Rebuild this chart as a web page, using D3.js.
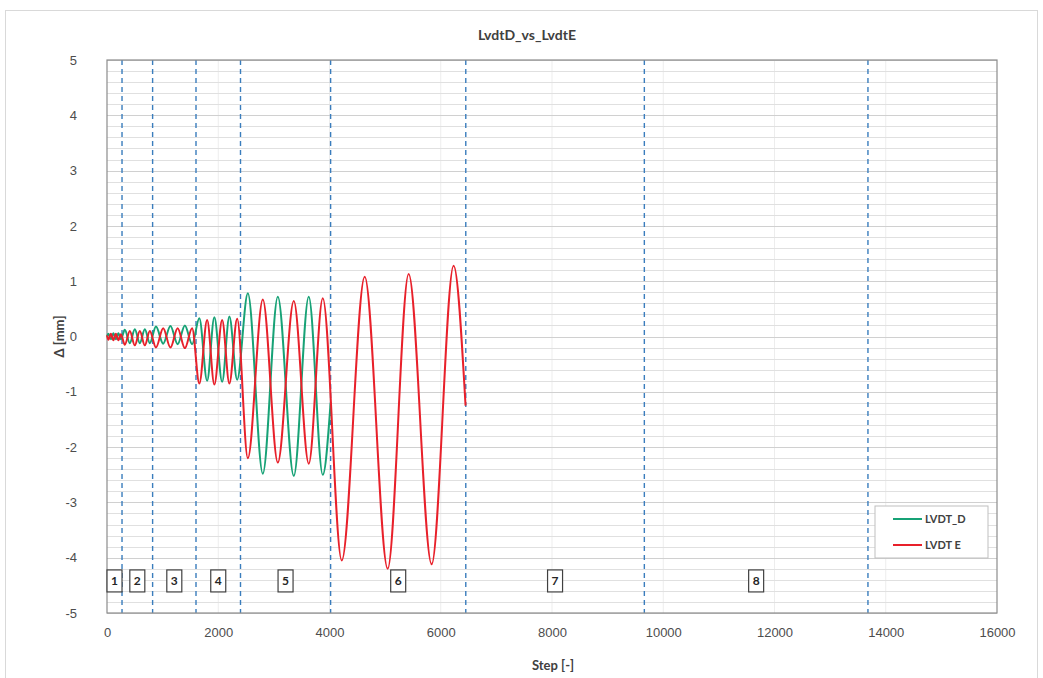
<!DOCTYPE html>
<html>
<head>
<meta charset="utf-8">
<script src="https://cdn.jsdelivr.net/npm/d3@7"></script>
<style>
  html, body { margin: 0; padding: 0; background: #fff; }
  svg { display: block; font-family: Lato, "Open Sans", sans-serif; }
</style>
</head>
<body>
<svg id="chart" width="1043" height="678"></svg>
<script>
// LVDT readings: [step, displacement in mm] at the turning points of each cycle
const lvdtD = [
  [0, 0.00], [25, 0.05], [70, -0.05], [115, 0.06], [160, -0.05], [205, 0.06], [250, -0.05],
  [320, 0.12], [410, -0.12], [500, 0.13], [590, -0.12], [680, 0.13], [770, -0.12],
  [880, 0.18], [1010, -0.13], [1140, 0.19], [1270, -0.14], [1400, 0.20], [1530, -0.14],
  [1660, 0.33], [1800, -0.80], [1930, 0.35], [2070, -0.82], [2200, 0.36], [2340, -0.78],
  [2532, 0.78], [2801, -2.48], [3071, 0.72], [3358, -2.52], [3627, 0.72], [3879, -2.50], [4020, -1.20]
];
const lvdtE = [
  [0, 0.02], [25, -0.06], [70, 0.05], [115, -0.07], [160, 0.05], [205, -0.07], [250, 0.04],
  [320, -0.15], [410, 0.10], [500, -0.16], [590, 0.10], [680, -0.16], [770, 0.10],
  [880, -0.20], [1010, 0.15], [1140, -0.20], [1270, 0.15], [1400, -0.21], [1530, 0.15],
  [1660, -0.85], [1800, 0.30], [1930, -0.87], [2070, 0.30], [2200, -0.85], [2340, 0.32],
  [2532, -2.20], [2801, 0.67], [3071, -2.28], [3358, 0.64], [3627, -2.30], [3879, 0.69],
  [4220, -4.05], [4633, 1.08], [5046, -4.20], [5423, 1.13], [5836, -4.12], [6231, 1.28], [6446, -1.25]
];

// Loading stage boundaries (step) and stage numbers
const stageBounds = [0, 270, 820, 1600, 2400, 4020, 6450, 9660, 13680];
const stageLabels = ["1", "2", "3", "4", "5", "6", "7", "8"];
const stageLabelLevel = -4.42;

const xTicks = [0, 2000, 4000, 6000, 8000, 10000, 12000, 14000, 16000];
const yTicks = [-5, -4, -3, -2, -1, 0, 1, 2, 3, 4, 5];

const series = [
  { name: "LVDT_D", values: lvdtD, color: "#17a276" },
  { name: "LVDT E", values: lvdtE, color: "#e8202a" }
];

const svg = d3.select("#chart");
const W = 1043, H = 678;
const plot = { left: 107, right: 997, top: 60, bottom: 613 };

svg.append("rect").attr("width", W).attr("height", H).attr("fill", "#fff");
// outer chart frame
svg.append("rect")
  .attr("x", 5.5).attr("y", 10.5).attr("width", 1032).attr("height", 690)
  .attr("fill", "none").attr("stroke", "#d9d9d9");

const x = d3.scaleLinear().domain([0, 16000]).range([plot.left, plot.right]);
const y = d3.scaleLinear().domain([-5, 5]).range([plot.bottom, plot.top]);

// vertical gridlines
svg.append("g").selectAll("line")
  .data(xTicks.slice(1, -1))
  .join("line")
  .attr("x1", d => x(d)).attr("x2", d => x(d))
  .attr("y1", plot.top).attr("y2", plot.bottom)
  .attr("stroke", "#ededed").attr("stroke-width", 1);

// horizontal gridlines every 0.2 mm
const minorY = d3.range(-50, 51, 2).map(v => v / 10);
svg.append("g").selectAll("line")
  .data(minorY)
  .join("line")
  .attr("x1", plot.left).attr("x2", plot.right)
  .attr("y1", d => Math.round(y(d)) + 0.5).attr("y2", d => Math.round(y(d)) + 0.5)
  .attr("stroke", d => Number.isInteger(d) ? "#d0d0d0" : "#e0e0e0")
  .attr("stroke-width", 1);

// stage boundary markers
svg.append("g").selectAll("line")
  .data(stageBounds.slice(1))
  .join("line")
  .attr("x1", d => x(d)).attr("x2", d => x(d))
  .attr("y1", plot.top).attr("y2", plot.bottom)
  .attr("stroke", "#3a7dbd").attr("stroke-width", 1.4)
  .attr("stroke-dasharray", "5,4");

// plot frame
svg.append("rect")
  .attr("x", plot.left).attr("y", plot.top)
  .attr("width", plot.right - plot.left).attr("height", plot.bottom - plot.top)
  .attr("fill", "none").attr("stroke", "#8c8c8c").attr("stroke-width", 1.2);

// axes (plain hyphen for negative numbers)
const fmt = d => String(d);
const xAxis = svg.append("g")
  .attr("transform", `translate(0,${plot.bottom})`)
  .call(d3.axisBottom(x).tickValues(xTicks).tickSize(0).tickPadding(15).tickFormat(fmt));
const yAxis = svg.append("g")
  .attr("transform", `translate(${plot.left},0)`)
  .call(d3.axisLeft(y).tickValues(yTicks).tickSize(0).tickPadding(30).tickFormat(fmt));
[xAxis, yAxis].forEach(a => {
  a.select(".domain").remove();
  a.selectAll("text").attr("fill", "#4d4d4d").attr("font-size", 13);
});

// series lines
const line = d3.line()
  .x(d => x(d[0])).y(d => y(d[1]))
  .curve(d3.curveMonotoneX);
svg.append("g").selectAll("path")
  .data(series)
  .join("path")
  .attr("d", d => line(d.values))
  .attr("fill", "none")
  .attr("stroke", d => d.color)
  .attr("stroke-width", 2)
  .attr("stroke-linejoin", "round");

// stage number boxes
const stages = stageLabels.map((label, i) => ({
  label,
  mid: (stageBounds[i] + stageBounds[i + 1]) / 2
}));
const boxes = svg.append("g").selectAll("g")
  .data(stages)
  .join("g")
  .attr("transform", d => `translate(${x(d.mid)},${y(stageLabelLevel)})`);
boxes.append("rect")
  .attr("x", -7.5).attr("y", -11).attr("width", 15).attr("height", 22)
  .attr("fill", "#fff").attr("stroke", "#404040").attr("stroke-width", 1.2);
boxes.append("text")
  .attr("text-anchor", "middle").attr("dy", "0.35em")
  .attr("font-size", 12).attr("font-weight", "bold").attr("fill", "#262626")
  .text(d => d.label);

// legend
const legend = svg.append("g").attr("transform", "translate(875,506)");
legend.append("rect")
  .attr("width", 113).attr("height", 52)
  .attr("fill", "#fff").attr("stroke", "#bfbfbf");
const items = legend.selectAll("g.item")
  .data(series)
  .join("g")
  .attr("class", "item")
  .attr("transform", (d, i) => `translate(0,${13 + i * 26})`);
items.append("line")
  .attr("x1", 18).attr("x2", 47)
  .attr("stroke", d => d.color).attr("stroke-width", 2);
items.append("text")
  .attr("x", 50).attr("dy", "0.35em")
  .attr("font-size", 11).attr("font-weight", "bold").attr("fill", "#404040")
  .text(d => d.name);

// titles
svg.append("text")
  .attr("x", 527).attr("y", 40)
  .attr("text-anchor", "middle")
  .attr("font-size", 14).attr("font-weight", "bold").attr("fill", "#404040")
  .text("LvdtD_vs_LvdtE");
svg.append("text")
  .attr("x", 553).attr("y", 670)
  .attr("text-anchor", "middle")
  .attr("font-size", 13).attr("font-weight", "bold").attr("fill", "#404040")
  .text("Step [-]");
svg.append("text")
  .attr("transform", `translate(64,${y(0)}) rotate(-90)`)
  .attr("text-anchor", "middle")
  .attr("font-size", 13).attr("font-weight", "bold").attr("fill", "#404040")
  .text("Δ [mm]");
</script>
</body>
</html>
